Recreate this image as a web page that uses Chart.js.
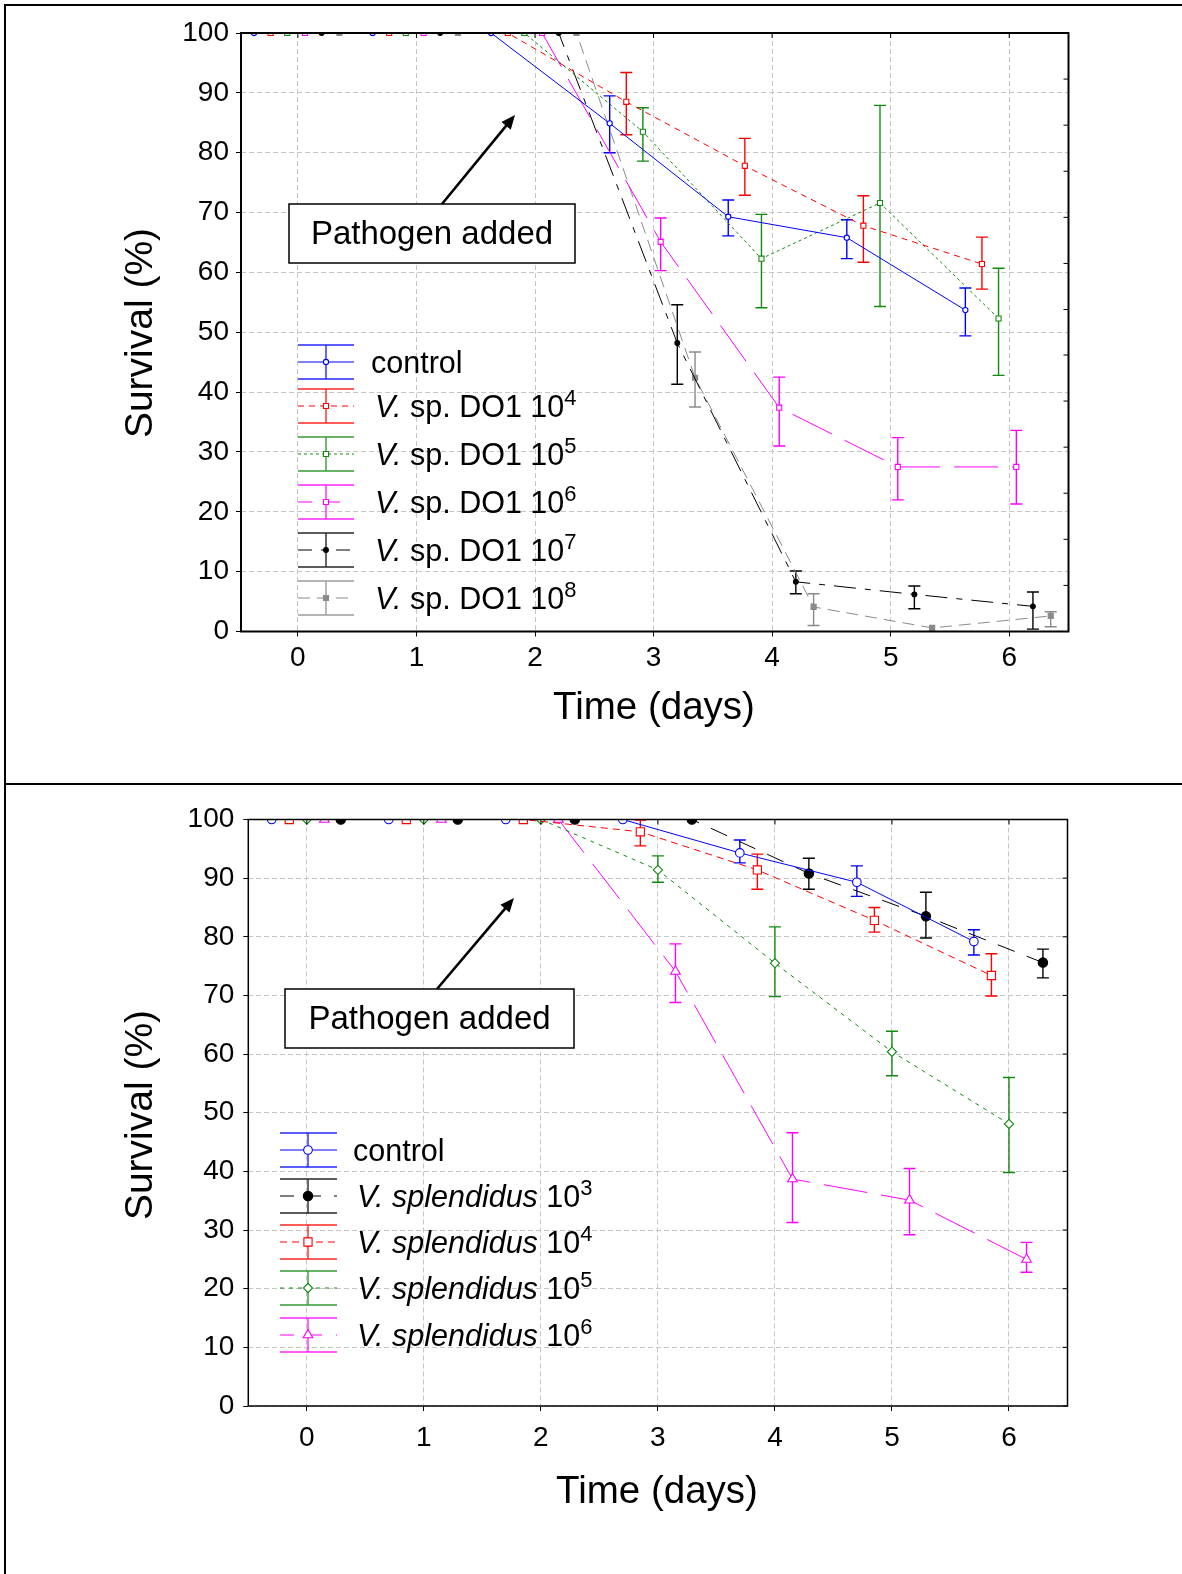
<!DOCTYPE html>
<html><head><meta charset="utf-8">
<script src="https://cdn.jsdelivr.net/npm/chart.js@4.4.0/dist/chart.umd.min.js"></script>
<style>
body{margin:0;background:#fff;}
#wrap{position:relative;width:1182px;height:1574px;overflow:hidden;background:#fff;}
canvas{position:absolute;left:0;}
#c1{top:0;width:1182px;height:784px;}
#c2{top:784px;width:1182px;height:790px;}
.ln{position:absolute;background:#000;}
</style></head>
<body><div id="wrap">
<canvas id="c1" width="1182" height="784"></canvas>
<canvas id="c2" width="1182" height="790"></canvas>
<div class="ln" style="left:4px;top:4px;width:1178px;height:2px"></div>
<div class="ln" style="left:4px;top:4px;width:2px;height:1570px"></div>
<div class="ln" style="left:4px;top:783px;width:1178px;height:2px"></div>
</div>
<script>
// ---------- DATA ----------
const days = [0, 1, 2, 3, 4, 5, 6];
const xTicks = [0, 1, 2, 3, 4, 5, 6];
const yTicks = [0, 10, 20, 30, 40, 50, 60, 70, 80, 90, 100];
const topRightTicks = [0, 7.7, 15.4, 23.1, 30.8, 38.5, 46.2, 53.8, 61.5, 69.2, 76.9, 84.6, 92.3, 100];
const xTitle = 'Time (days)';
const yTitle = 'Survival (%)';
const noteText = 'Pathogen added';

// Top panel: V. sp. DO1
const topControl   = [100, 100, 100, 84.9, 69.3, 65.8, 53.7];
const topControlHi = [null, null, null, 89.5, 72.1, 68.8, 57.4];
const topControlLo = [null, null, null, 80.0, 66.1, 62.3, 49.4];
const topD4   = [100, 100, 100, 88.5, 77.8, 67.8, 61.4];
const topD4Hi = [null, null, null, 93.4, 82.4, 72.8, 65.9];
const topD4Lo = [null, null, null, 83.0, 72.9, 61.7, 57.2];
const topD5   = [100, 100, 100, 83.5, 62.3, 71.6, 52.3];
const topD5Hi = [null, null, null, 87.5, 69.7, 87.9, 60.7];
const topD5Lo = [null, null, null, 78.6, 54.1, 54.3, 42.8];
const topD6   = [100, 100, 100, 65.1, 37.4, 27.5, 27.5];
const topD6Hi = [null, null, null, 69.1, 42.5, 32.4, 33.6];
const topD6Lo = [null, null, null, 60.3, 31.0, 22.0, 21.3];
const topD7   = [100, 100, 100, 48.2, 8.3, 6.2, 4.2];
const topD7Hi = [null, null, null, 54.6, 10.1, 7.6, 6.6];
const topD7Lo = [null, null, null, 41.3, 6.3, 3.8, 0.4];
const topD8   = [100, 100, 100, 42.4, 4.1, 0.6, 2.6];
const topD8Hi = [null, null, null, 46.7, 6.3, null, 3.3];
const topD8Lo = [null, null, null, 37.5, 1.0, null, 0.8];
const topLabels = [
  [{t:'control'}],
  [{t:'V.', it:1}, {t:' sp. DO1 10'}, {t:'4', sup:1}],
  [{t:'V.', it:1}, {t:' sp. DO1 10'}, {t:'5', sup:1}],
  [{t:'V.', it:1}, {t:' sp. DO1 10'}, {t:'6', sup:1}],
  [{t:'V.', it:1}, {t:' sp. DO1 10'}, {t:'7', sup:1}],
  [{t:'V.', it:1}, {t:' sp. DO1 10'}, {t:'8', sup:1}]
];

// Bottom panel: V. splendidus
const botControl   = [100, 100, 100, 100, 94.3, 89.3, 79.2];
const botControlHi = [null, null, null, null, 96.5, 92.1, 81.2];
const botControlLo = [null, null, null, null, 92.6, 86.9, 76.9];
const botS3   = [100, 100, 100, 100, 90.8, 83.5, 75.6];
const botS3Hi = [null, null, null, null, 93.4, 87.6, 77.9];
const botS3Lo = [null, null, null, null, 88.1, 79.8, 73.0];
const botS4   = [100, 100, 100, 97.9, 91.4, 82.8, 73.4];
const botS4Hi = [null, null, null, 99.9, 94.1, 85.0, 77.1];
const botS4Lo = [null, null, null, 95.5, 88.1, 80.8, 69.9];
const botS5   = [100, 100, 100, 91.4, 75.5, 60.4, 48.1];
const botS5Hi = [null, null, null, 93.8, 81.7, 63.9, 56.0];
const botS5Lo = [null, null, null, 89.3, 69.8, 56.3, 39.8];
const botS6   = [100, 100, 100, 74.1, 38.7, 35.1, 25.0];
const botS6Hi = [null, null, null, 78.8, 46.6, 40.5, 27.9];
const botS6Lo = [null, null, null, 68.8, 31.3, 29.2, 22.8];
const botLabels = [
  [{t:'control'}],
  [{t:'V. splendidus', it:1}, {t:' 10'}, {t:'3', sup:1}],
  [{t:'V. splendidus', it:1}, {t:' 10'}, {t:'4', sup:1}],
  [{t:'V. splendidus', it:1}, {t:' 10'}, {t:'5', sup:1}],
  [{t:'V. splendidus', it:1}, {t:' 10'}, {t:'6', sup:1}]
];

// ---------- STYLE / BUILD ----------
const FAM = '"Liberation Sans", Arial, Helvetica, sans-serif';
const BLUE = '#0000ff', RED = '#ff0000', GREEN = '#128a12', MAG = '#ff00ff', BLK = '#000000', GREY = '#8a8a8a';

function makeDataset(s) {
  return {
    data: days.map((d, i) => ({x: d + s.off, y: s.vals[i]})),
    errHi: s.hi, errLo: s.lo, legendLabel: s.label,
    borderColor: s.color, borderWidth: 1, borderDash: s.dash,
    pointStyle: s.style, pointRadius: s.r, pointHoverRadius: s.r,
    pointBorderColor: s.color, pointBackgroundColor: s.fill, pointBorderWidth: 1.1,
    tension: 0, fill: false, showLine: true
  };
}

const topDatasets = [
  {vals: topControl, hi: topControlHi, lo: topControlLo, color: BLUE, dash: [], style: 'circle', r: 2.6, fill: '#fff', off: -0.37, label: topLabels[0]},
  {vals: topD4, hi: topD4Hi, lo: topD4Lo, color: RED, dash: [6, 5], style: 'rect', r: 3.6, fill: '#fff', off: -0.23, label: topLabels[1]},
  {vals: topD5, hi: topD5Hi, lo: topD5Lo, color: GREEN, dash: [3, 3], style: 'rect', r: 3.6, fill: '#fff', off: -0.09, label: topLabels[2]},
  {vals: topD6, hi: topD6Hi, lo: topD6Lo, color: MAG, dash: [44, 14], style: 'rect', r: 3.6, fill: '#fff', off: 0.06, label: topLabels[3]},
  {vals: topD7, hi: topD7Hi, lo: topD7Lo, color: BLK, dash: [22, 9, 6, 9], style: 'circle', r: 2.4, fill: BLK, off: 0.20, label: topLabels[4]},
  {vals: topD8, hi: topD8Hi, lo: topD8Lo, color: GREY, dash: [12, 7], style: 'rect', r: 3.6, fill: GREY, off: 0.35, label: topLabels[5]}
].map(makeDataset);

const botDatasets = [
  {vals: botControl, hi: botControlHi, lo: botControlLo, color: BLUE, dash: [], style: 'circle', r: 4.3, fill: '#fff', off: -0.30, label: botLabels[0]},
  {vals: botS3, hi: botS3Hi, lo: botS3Lo, color: BLK, dash: [18, 13], style: 'circle', r: 4.7, fill: BLK, off: 0.29, label: botLabels[1]},
  {vals: botS4, hi: botS4Hi, lo: botS4Lo, color: RED, dash: [7, 5], style: 'rect', r: 5.8, fill: '#fff', off: -0.15, label: botLabels[2]},
  {vals: botS5, hi: botS5Hi, lo: botS5Lo, color: GREEN, dash: [4, 5], style: 'rectRot', r: 4.6, fill: '#fff', off: 0, label: botLabels[3]},
  {vals: botS6, hi: botS6Hi, lo: botS6Lo, color: MAG, dash: [44, 14], style: 'triangle', r: 5.6, fill: '#fff', off: 0.15, label: botLabels[4]}
].map(makeDataset);

function drawRich(ctx, x, y, parts, size) {
  let cx = x;
  ctx.textBaseline = 'alphabetic'; ctx.textAlign = 'left'; ctx.fillStyle = '#000';
  parts.forEach(p => {
    const fs = p.sup ? size * 0.72 : size;
    ctx.font = (p.it ? 'italic ' : '') + fs + 'px ' + FAM;
    const yy = p.sup ? y - size * 0.4 : y;
    ctx.fillText(p.t, cx, yy);
    cx += ctx.measureText(p.t).width;
  });
}

function makeOverlay(cfg) {
  return {
    id: 'overlay',
    beforeDatasetsDraw(chart) {
      const {ctx, chartArea: a, scales: {x: xs, y: ys}} = chart;
      ctx.save();
      ctx.beginPath(); ctx.rect(a.left, a.top - 1, a.right - a.left, a.bottom - a.top + 2); ctx.clip();
      ctx.setLineDash([]); ctx.lineWidth = 1.4;
      chart.data.datasets.forEach(ds => {
        ctx.strokeStyle = ds.borderColor;
        ds.data.forEach((p, j) => {
          const hi = ds.errHi[j], lo = ds.errLo[j];
          if (hi == null || lo == null) return;
          const x = xs.getPixelForValue(p.x), y1 = ys.getPixelForValue(hi), y2 = ys.getPixelForValue(lo);
          ctx.beginPath();
          ctx.moveTo(x, y1); ctx.lineTo(x, y2);
          ctx.moveTo(x - cfg.cap, y1); ctx.lineTo(x + cfg.cap, y1);
          ctx.moveTo(x - cfg.cap, y2); ctx.lineTo(x + cfg.cap, y2);
          ctx.stroke();
        });
      });
      ctx.restore();
    },
    afterDraw(chart) {
      const {ctx, chartArea: a, scales: {x: xs, y: ys}} = chart;
      ctx.save();
      // plot frame
      ctx.setLineDash([]);
      ctx.strokeStyle = '#000'; ctx.lineWidth = cfg.frameW;
      ctx.strokeRect(a.left, a.top, a.right - a.left, a.bottom - a.top);
      // inward ticks on top and right
      ctx.lineWidth = 1;
      ctx.beginPath();
      xTicks.forEach(v => { const x = xs.getPixelForValue(v); ctx.moveTo(x, a.top); ctx.lineTo(x, a.top + 5); });
      cfg.rightTicks.forEach(v => { const y = ys.getPixelForValue(v); ctx.moveTo(a.right, y); ctx.lineTo(a.right - 5, y); });
      ctx.stroke();
      // axis titles
      ctx.fillStyle = '#000';
      ctx.font = '39px ' + FAM; ctx.textAlign = 'center'; ctx.textBaseline = 'middle';
      ctx.save(); ctx.translate(cfg.yTitle[0], cfg.yTitle[1]); ctx.rotate(-Math.PI / 2);
      ctx.fillText(yTitle, 0, 0); ctx.restore();
      ctx.font = '38.5px ' + FAM;
      ctx.fillText(xTitle, cfg.xTitle[0], cfg.xTitle[1]);
      // annotation box + arrow
      const b = cfg.box;
      ctx.fillStyle = '#fff'; ctx.fillRect(b[0], b[1], b[2] - b[0], b[3] - b[1]);
      ctx.strokeStyle = '#000'; ctx.lineWidth = 1.5; ctx.strokeRect(b[0], b[1], b[2] - b[0], b[3] - b[1]);
      ctx.fillStyle = '#000'; ctx.font = '33px ' + FAM; ctx.textAlign = 'center'; ctx.textBaseline = 'middle';
      ctx.fillText(noteText, (b[0] + b[2]) / 2, (b[1] + b[3]) / 2 + 1);
      const ar = cfg.arrow;
      const ang = Math.atan2(ar[3] - ar[1], ar[2] - ar[0]);
      const hl = 14, hw = 6;
      ctx.lineWidth = 2.6; ctx.lineCap = 'butt';
      ctx.beginPath(); ctx.moveTo(ar[0], ar[1]);
      ctx.lineTo(ar[2] - Math.cos(ang) * hl * 0.8, ar[3] - Math.sin(ang) * hl * 0.8); ctx.stroke();
      ctx.beginPath();
      ctx.moveTo(ar[2], ar[3]);
      ctx.lineTo(ar[2] - Math.cos(ang) * hl + Math.sin(ang) * hw, ar[3] - Math.sin(ang) * hl - Math.cos(ang) * hw);
      ctx.lineTo(ar[2] - Math.cos(ang) * hl - Math.sin(ang) * hw, ar[3] - Math.sin(ang) * hl + Math.cos(ang) * hw);
      ctx.closePath(); ctx.fill();
      // legend
      const L = cfg.legend;
      chart.data.datasets.forEach((ds, i) => {
        const yc = L.rows[i];
        ctx.setLineDash([]); ctx.strokeStyle = ds.borderColor; ctx.lineWidth = 1.4;
        ctx.globalAlpha = 0.85;
        ctx.beginPath();
        ctx.moveTo(L.x0, yc - L.half); ctx.lineTo(L.x1, yc - L.half);
        ctx.moveTo(L.x0, yc + L.half); ctx.lineTo(L.x1, yc + L.half);
        ctx.moveTo(L.xv, yc - L.half); ctx.lineTo(L.xv, yc + L.half);
        ctx.stroke();
        ctx.globalAlpha = 1;
        ctx.lineWidth = 1; ctx.setLineDash(ds.borderDash.map(d => Math.min(d, 14)));
        ctx.beginPath(); ctx.moveTo(L.x0, yc); ctx.lineTo(L.x1, yc); ctx.stroke();
        ctx.setLineDash([]);
        ctx.fillStyle = ds.pointBackgroundColor; ctx.strokeStyle = ds.pointBorderColor; ctx.lineWidth = ds.pointBorderWidth;
        Chart.helpers.drawPoint(ctx, {pointStyle: ds.pointStyle, radius: ds.pointRadius, rotation: 0, borderWidth: ds.pointBorderWidth}, L.xv, yc);
        drawRich(ctx, L.textX[i], yc + 11, ds.legendLabel, 30.5);
      });
      ctx.restore();
    }
  };
}

function makeChart(id, datasets, geo, cfg) {
  return new Chart(document.getElementById(id), {
    type: 'line',
    data: {datasets},
    options: {
      responsive: false, animation: false, devicePixelRatio: 1,
      layout: {padding: {left: 0, top: geo.top, right: geo.right, bottom: 0}},
      plugins: {legend: {display: false}, tooltip: {enabled: false}},
      events: [],
      scales: {
        x: {
          type: 'linear', min: geo.xmin, max: geo.xmax,
          afterBuildTicks: ax => { ax.ticks = xTicks.map(v => ({value: v})); },
          afterFit: ax => { ax.height = geo.xh; },
          grid: {color: '#c6c6c6', lineWidth: 1, drawTicks: true, tickLength: 5, tickColor: '#000', tickWidth: 1},
          border: {display: false, dash: [5, 3]},
          ticks: {font: {size: 28, family: FAM}, color: '#000', padding: geo.xpad, maxRotation: 0, autoSkip: false, callback: v => String(v)}
        },
        y: {
          type: 'linear', min: 0, max: 100,
          afterBuildTicks: ax => { ax.ticks = yTicks.map(v => ({value: v})); },
          afterFit: ax => { ax.width = geo.yw; },
          grid: {color: '#c6c6c6', lineWidth: 1, drawTicks: true, tickLength: 5, tickColor: '#000', tickWidth: 1},
          border: {display: false, dash: [5, 3]},
          ticks: {font: {size: 28, family: FAM}, color: '#000', padding: geo.ypad, autoSkip: false, callback: v => String(v)}
        }
      }
    },
    plugins: [makeOverlay(cfg)]
  });
}

makeChart('c1', topDatasets,
  {top: 33, right: 113.5, xmin: -0.48, xmax: 6.5, xh: 152.5, yw: 241, xpad: 4.5, ypad: 7},
  {cap: 6, frameW: 2, rightTicks: topRightTicks, yTitle: [141, 333], xTitle: [654, 708],
   box: [289, 204, 575, 263], arrow: [442, 204, 515, 115],
   legend: {x0: 298, x1: 354, xv: 326, half: 17, rows: [362, 406, 454, 502, 550, 598], textX: [371, 375, 375, 375, 375, 375]}});

makeChart('c2', botDatasets,
  {top: 35.5, right: 114.5, xmin: -0.5, xmax: 6.5, xh: 168, yw: 248.3, xpad: 10.5, ypad: 9},
  {cap: 6, frameW: 1.5, rightTicks: yTicks, yTitle: [141, 331], xTitle: [657, 708],
   box: [285, 205, 574, 264], arrow: [437, 205, 514, 114],
   legend: {x0: 280, x1: 337, xv: 308, half: 17, rows: [366, 412, 458, 504, 551], textX: [353, 357, 357, 357, 357]}});
</script>
</body></html>
